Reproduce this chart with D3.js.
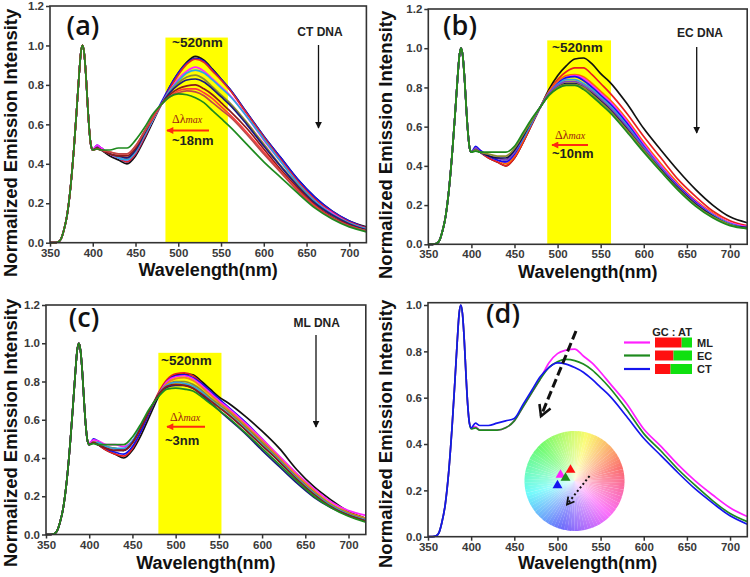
<!DOCTYPE html>
<html><head><meta charset="utf-8">
<script src="https://cdn.jsdelivr.net/npm/d3@7"></script>
<style>body{margin:0;background:#fff}svg{display:block}</style>
</head><body><svg id="chart" width="750" height="577"></svg>
<script>
// ---------- data ----------
const exWavelengths = [350,355,360,363,366,370,374,378,381,384,386,388,390,392,394,396,398];
const exIntensity   = [0,0,0.005,0.02,0.06,0.14,0.28,0.48,0.66,0.85,0.96,1.0,0.96,0.85,0.70,0.57,0.49];
const emWavelengths = [400,405,410,420,430,440,450,460,470,480,490,500,510,520,530,540,550,560,580,600,620,640,660,680,700,720];

// (a) CT DNA titration
const ctColors = ["#111111","#1010ee","#e02828","#ff20ff","#2aa8e0","#8c8c30","#1a1a80","#8b1a1a","#ff3a3a","#c04848","#1e8a1e"];
const ctSpectra = [
 [0.47,0.485,0.47,0.44,0.42,0.40,0.44,0.52,0.61,0.70,0.79,0.86,0.915,0.945,0.925,0.88,0.83,0.78,0.66,0.54,0.43,0.32,0.23,0.16,0.11,0.08],
 [0.47,0.495,0.48,0.45,0.43,0.41,0.45,0.53,0.62,0.71,0.79,0.86,0.91,0.935,0.92,0.875,0.83,0.78,0.66,0.54,0.43,0.32,0.23,0.16,0.11,0.075],
 [0.47,0.48,0.47,0.45,0.43,0.41,0.45,0.53,0.62,0.70,0.78,0.85,0.905,0.93,0.915,0.87,0.825,0.775,0.655,0.535,0.42,0.31,0.22,0.155,0.105,0.075],
 [0.47,0.495,0.48,0.45,0.43,0.42,0.46,0.54,0.62,0.70,0.77,0.83,0.87,0.89,0.87,0.83,0.79,0.75,0.64,0.52,0.41,0.30,0.21,0.15,0.10,0.07],
 [0.47,0.48,0.47,0.45,0.43,0.42,0.46,0.54,0.62,0.70,0.77,0.82,0.86,0.875,0.86,0.825,0.785,0.745,0.64,0.525,0.41,0.30,0.21,0.145,0.10,0.07],
 [0.47,0.48,0.47,0.45,0.44,0.43,0.47,0.55,0.63,0.70,0.76,0.81,0.84,0.85,0.83,0.79,0.75,0.71,0.61,0.50,0.39,0.29,0.20,0.14,0.095,0.065],
 [0.47,0.48,0.47,0.45,0.44,0.43,0.47,0.55,0.63,0.70,0.76,0.80,0.825,0.83,0.815,0.78,0.74,0.70,0.60,0.49,0.385,0.285,0.20,0.14,0.095,0.065],
 [0.47,0.48,0.47,0.45,0.44,0.44,0.48,0.56,0.63,0.70,0.75,0.78,0.795,0.80,0.78,0.75,0.71,0.67,0.58,0.475,0.37,0.275,0.19,0.13,0.09,0.06],
 [0.47,0.475,0.47,0.46,0.45,0.45,0.49,0.56,0.63,0.70,0.74,0.77,0.78,0.78,0.76,0.73,0.69,0.65,0.56,0.46,0.36,0.265,0.185,0.125,0.085,0.06],
 [0.47,0.475,0.47,0.46,0.45,0.45,0.49,0.56,0.64,0.70,0.74,0.76,0.77,0.765,0.745,0.71,0.675,0.64,0.55,0.45,0.355,0.26,0.18,0.125,0.085,0.06],
 [0.47,0.475,0.47,0.47,0.48,0.48,0.52,0.58,0.65,0.70,0.74,0.755,0.75,0.735,0.71,0.67,0.63,0.59,0.50,0.41,0.33,0.25,0.175,0.12,0.08,0.055]
];

// (b) EC DNA titration
const ecColors = ["#111111","#e82020","#ff6a00","#ff20ff","#1010ee","#30a0e0","#8040c0","#101050","#8c8c30","#1e8a1e"];
const ecSpectra = [
 [0.47,0.485,0.47,0.44,0.42,0.40,0.44,0.52,0.61,0.70,0.79,0.86,0.91,0.945,0.95,0.92,0.87,0.83,0.72,0.59,0.48,0.375,0.28,0.20,0.14,0.11],
 [0.47,0.49,0.47,0.44,0.42,0.40,0.44,0.52,0.61,0.70,0.78,0.84,0.88,0.90,0.90,0.865,0.82,0.775,0.67,0.55,0.44,0.33,0.245,0.17,0.12,0.095],
 [0.47,0.48,0.47,0.45,0.43,0.41,0.45,0.53,0.62,0.70,0.78,0.83,0.86,0.865,0.855,0.82,0.78,0.74,0.64,0.52,0.41,0.31,0.225,0.16,0.11,0.09],
 [0.47,0.49,0.48,0.45,0.43,0.42,0.46,0.54,0.62,0.70,0.77,0.82,0.85,0.86,0.845,0.81,0.77,0.73,0.63,0.51,0.40,0.30,0.22,0.155,0.11,0.09],
 [0.47,0.50,0.48,0.45,0.43,0.42,0.46,0.54,0.62,0.70,0.77,0.82,0.85,0.855,0.835,0.80,0.76,0.72,0.62,0.50,0.39,0.295,0.215,0.15,0.105,0.085],
 [0.47,0.48,0.47,0.45,0.44,0.43,0.47,0.54,0.62,0.70,0.77,0.815,0.84,0.84,0.82,0.79,0.75,0.71,0.61,0.495,0.39,0.29,0.21,0.15,0.105,0.085],
 [0.47,0.49,0.47,0.45,0.44,0.43,0.47,0.55,0.63,0.70,0.77,0.81,0.83,0.83,0.81,0.78,0.74,0.70,0.60,0.49,0.385,0.29,0.21,0.145,0.10,0.085],
 [0.47,0.48,0.47,0.45,0.44,0.44,0.48,0.55,0.63,0.70,0.76,0.80,0.82,0.82,0.80,0.77,0.73,0.69,0.59,0.48,0.38,0.285,0.205,0.145,0.10,0.085],
 [0.47,0.48,0.47,0.46,0.45,0.45,0.49,0.56,0.63,0.70,0.76,0.80,0.815,0.815,0.80,0.765,0.725,0.685,0.585,0.48,0.375,0.28,0.20,0.14,0.10,0.08],
 [0.47,0.475,0.47,0.47,0.47,0.47,0.50,0.57,0.64,0.70,0.76,0.795,0.81,0.81,0.79,0.755,0.715,0.675,0.575,0.47,0.37,0.275,0.195,0.135,0.095,0.08]
];

// (c) ML DNA titration
const mlColors = ["#111111","#e82020","#1010ee","#ff20ff","#f08020","#8c8c30","#30a0e0","#1a1a80","#8b1a1a","#1e8a1e"];
const mlSpectra = [
 [0.47,0.485,0.47,0.44,0.42,0.40,0.44,0.52,0.62,0.72,0.80,0.835,0.84,0.835,0.80,0.76,0.72,0.69,0.62,0.54,0.45,0.34,0.25,0.18,0.12,0.085],
 [0.47,0.485,0.47,0.44,0.42,0.41,0.45,0.54,0.64,0.74,0.81,0.84,0.845,0.83,0.79,0.74,0.695,0.655,0.575,0.48,0.39,0.30,0.22,0.15,0.105,0.075],
 [0.47,0.50,0.49,0.45,0.43,0.42,0.46,0.54,0.64,0.73,0.80,0.83,0.835,0.82,0.79,0.75,0.71,0.67,0.59,0.50,0.40,0.30,0.22,0.155,0.11,0.08],
 [0.48,0.495,0.49,0.47,0.47,0.46,0.49,0.56,0.65,0.73,0.80,0.825,0.83,0.815,0.78,0.74,0.70,0.665,0.585,0.50,0.41,0.32,0.24,0.17,0.125,0.10],
 [0.47,0.485,0.48,0.46,0.45,0.44,0.48,0.56,0.65,0.73,0.79,0.815,0.82,0.805,0.77,0.73,0.69,0.655,0.575,0.49,0.40,0.31,0.23,0.16,0.115,0.085],
 [0.47,0.48,0.48,0.46,0.45,0.44,0.48,0.56,0.65,0.73,0.78,0.80,0.80,0.785,0.755,0.715,0.68,0.645,0.565,0.48,0.39,0.30,0.22,0.155,0.11,0.08],
 [0.47,0.48,0.48,0.46,0.45,0.45,0.49,0.57,0.65,0.73,0.78,0.795,0.79,0.775,0.745,0.705,0.67,0.635,0.555,0.47,0.385,0.295,0.215,0.15,0.105,0.075],
 [0.47,0.48,0.47,0.45,0.44,0.44,0.48,0.56,0.65,0.73,0.77,0.78,0.78,0.765,0.73,0.69,0.65,0.61,0.53,0.44,0.355,0.27,0.195,0.14,0.10,0.07],
 [0.47,0.48,0.47,0.45,0.44,0.44,0.48,0.56,0.65,0.73,0.775,0.785,0.78,0.765,0.735,0.70,0.665,0.63,0.55,0.465,0.38,0.29,0.21,0.145,0.10,0.07],
 [0.47,0.475,0.47,0.47,0.47,0.47,0.51,0.58,0.66,0.72,0.76,0.765,0.76,0.75,0.72,0.685,0.65,0.615,0.535,0.45,0.365,0.28,0.20,0.14,0.095,0.065]
];

// (d) saturated spectra
const dNames  = ["ML","EC","CT"];
const dColors = ["#ff20ff","#1e8a1e","#1515ee"];
const dSpectra = [
 [0.47,0.475,0.46,0.46,0.46,0.47,0.50,0.56,0.62,0.68,0.75,0.79,0.805,0.81,0.78,0.75,0.71,0.665,0.575,0.465,0.39,0.31,0.24,0.18,0.125,0.087],
 [0.465,0.47,0.46,0.46,0.46,0.47,0.50,0.56,0.62,0.68,0.73,0.755,0.765,0.76,0.745,0.72,0.685,0.645,0.55,0.445,0.37,0.29,0.22,0.155,0.10,0.065],
 [0.47,0.49,0.48,0.48,0.49,0.50,0.51,0.57,0.63,0.69,0.73,0.75,0.745,0.73,0.71,0.68,0.645,0.61,0.52,0.425,0.35,0.275,0.205,0.145,0.09,0.054]
];
const gcContent = [72, 50, 42];           // % GC of ML, EC, CT DNA
const wheelPoints = [[-0.08,0.22],[-0.28,0.12],[-0.18,0.06],[-0.34,-0.09]];
const wheelColors = ["#ff1010","#ff20ff","#1e8a1e","#1515ee"];

const shiftLabels = ["~18nm","~10nm","~3nm"];
const dnaLabels = ["CT DNA","EC DNA","ML DNA"];
const bands = [[485,558],[488,562],[480,553]];
const bandTops = [1.04,1.04,0.95];
const xTicks = [350,400,450,500,550,600,650,700];

// ---------- drawing ----------
const svg = d3.select("#chart");
const FONT = "'Liberation Sans', Arial, sans-serif";

const layout = [
 {xr:[50,366.4], yr:[242.7,6], ymax:1.2, label:"(a)", lab:[83,35], xt:276, yt:[16.5,277], spectra:ctSpectra, colors:ctColors, ann:0,
  arrow:[318.5,45,128], dnaTxt:[320,36], nmTxt:[172,46.5], dlTxt:[172,123], redArr:[209,167,130.5], shTxt:[172,145]},
 {xr:[428.3,747.2], yr:[244.3,9], ymax:1.2, label:"(b)", lab:[460,35], xt:278, yt:[391.5,279], spectra:ecSpectra, colors:ecColors, ann:1,
  arrow:[696.7,47,133], dnaTxt:[700,36.5], nmTxt:[552,51.5], dlTxt:[555,139], redArr:[588,552,145], shTxt:[552,158]},
 {xr:[46,365.8], yr:[534.5,305], ymax:1.2, label:"(c)", lab:[84,327], xt:568.5, yt:[16.5,567], spectra:mlSpectra, colors:mlColors, ann:2,
  arrow:[316,335,427], dnaTxt:[316.7,326.5], nmTxt:[161,365], dlTxt:[170,421], redArr:[205,167,426.7], shTxt:[165,445]},
 {xr:[428,747.3], yr:[536.7,302.7], ymax:1.01, label:"(d)", lab:[503,323], xt:569, yt:[391.5,568], spectra:dSpectra, colors:dColors, ann:-1}
];

const defs = svg.append("defs");
defs.append("marker").attr("id","blackHead").attr("viewBox","0 0 10 10").attr("refX",9).attr("refY",5)
  .attr("markerWidth",7).attr("markerHeight",7).attr("orient","auto").attr("markerUnits","userSpaceOnUse")
  .append("path").attr("d","M0,0L10,5L0,10Z").attr("fill","#111");
defs.append("marker").attr("id","redHead").attr("viewBox","0 0 10 10").attr("refX",9).attr("refY",5)
  .attr("markerWidth",8).attr("markerHeight",7).attr("orient","auto").attr("markerUnits","userSpaceOnUse")
  .append("path").attr("d","M0,0L10,5L0,10Z").attr("fill","#ff2a10");
defs.append("marker").attr("id","openHead").attr("viewBox","0 0 10 10").attr("refX",8).attr("refY",5)
  .attr("markerWidth",15).attr("markerHeight",15).attr("orient","auto").attr("markerUnits","userSpaceOnUse")
  .append("path").attr("d","M1,1L8,5L1,9").attr("fill","none").attr("stroke","#111").attr("stroke-width",1.7);
defs.append("marker").attr("id","openHeadSmall").attr("viewBox","0 0 10 10").attr("refX",8).attr("refY",5)
  .attr("markerWidth",10).attr("markerHeight",10).attr("orient","auto").attr("markerUnits","userSpaceOnUse")
  .append("path").attr("d","M1,1L8,5L1,9").attr("fill","none").attr("stroke","#111").attr("stroke-width",1.8);
const rg = defs.append("radialGradient").attr("id","wheelFade");
rg.append("stop").attr("offset","0%").attr("stop-color","#fff").attr("stop-opacity",0.75);
rg.append("stop").attr("offset","55%").attr("stop-color","#fff").attr("stop-opacity",0.3);
rg.append("stop").attr("offset","100%").attr("stop-color","#fff").attr("stop-opacity",0);

const allX = exWavelengths.concat(emWavelengths);

layout.forEach((L, pi) => {
  const g = svg.append("g");
  const x = d3.scaleLinear().domain([350,720]).range(L.xr);
  const y = d3.scaleLinear().domain([0,L.ymax]).range(L.yr);

  // yellow band
  if (L.ann >= 0) {
    const b = bands[L.ann];
    g.append("rect").attr("x",x(b[0])).attr("width",x(b[1])-x(b[0]))
      .attr("y",y(bandTops[L.ann])).attr("height",y(0)-y(bandTops[L.ann])).attr("fill","#ffff00");
  }

  // colour wheel in (d)
  if (pi === 3) {
    const cx = 574.5, cy = 481, r = 50;
    const wg = g.append("g").attr("transform",`translate(${cx},${cy})`);
    const arc = d3.arc().innerRadius(0).outerRadius(r);
    const n = 90;
    for (let i = 0; i < n; i++) {
      const a0 = i/n*2*Math.PI, a1 = (i+1.05)/n*2*Math.PI;
      const theta = (i+0.5)/n*360;
      const hue = ((75 - theta) % 360 + 360) % 360;
      wg.append("path").attr("d",arc({startAngle:a0,endAngle:a1})).attr("fill",d3.hsl(hue,0.95,0.7));
    }
    wg.append("circle").attr("r",r).attr("fill","url(#wheelFade)");
    const wx = d3.scaleLinear().domain([-1,1]).range([-r,r]);
    const wy = d3.scaleLinear().domain([-1,1]).range([r,-r]);
    wg.append("line").attr("x1",wx(0.3)).attr("y1",wy(0.1)).attr("x2",wx(-0.15)).attr("y2",wy(-0.47))
      .attr("stroke","#111").attr("stroke-width",2).attr("stroke-dasharray","2,2.5").attr("marker-end","url(#openHeadSmall)");
    wheelPoints.forEach((p,i) => {
      wg.append("path").attr("d",d3.symbol(d3.symbolTriangle).size(42)())
        .attr("transform",`translate(${wx(p[0])},${wy(p[1])})`).attr("fill",wheelColors[i]);
    });
  }

  // spectra
  const line = d3.line().x(d=>x(d[0])).y(d=>y(d[1])).curve(d3.curveMonotoneX);
  L.spectra.forEach((s,i) => {
    const pts = allX.map((w,k) => [w, k < exIntensity.length ? exIntensity[k] : s[k-exIntensity.length]]);
    g.append("path").attr("d",line(pts)).attr("fill","none").attr("stroke",L.colors[i])
      .attr("stroke-width",1.7).attr("stroke-linejoin","round");
  });

  // frame
  g.append("rect").attr("x",L.xr[0]).attr("y",L.yr[1]).attr("width",L.xr[1]-L.xr[0]).attr("height",L.yr[0]-L.yr[1])
    .attr("fill","none").attr("stroke","#333").attr("stroke-width",1.6);

  // axes
  const xa = g.append("g").attr("transform",`translate(0,${L.yr[0]})`)
    .call(d3.axisBottom(x).tickValues(xTicks).tickSize(4).tickPadding(2).tickFormat(d3.format("d")));
  const yTicks = d3.range(0, Math.floor(L.ymax*5+1e-6)+1).map(i=>i*0.2);
  const ya = g.append("g").attr("transform",`translate(${L.xr[0]},0)`)
    .call(d3.axisLeft(y).tickValues(yTicks).tickSize(4).tickPadding(2).tickFormat(d3.format(".1f")));
  [xa,ya].forEach(a => {
    a.select(".domain").remove();
    a.selectAll(".tick line").attr("stroke","#333").attr("stroke-width",1.5);
    a.selectAll(".tick text").attr("fill","#3a3a3a").style("font-family",FONT).style("font-weight","bold").style("font-size","11.5px");
  });

  // titles
  g.append("text").attr("x",(L.xr[0]+L.xr[1])/2).attr("y",L.xt).attr("text-anchor","middle")
    .style("font-family",FONT).style("font-weight","bold").style("font-size","18px").attr("fill","#111").text("Wavelength(nm)");
  g.append("text").attr("transform",`translate(${L.yt[0]},${L.yt[1]}) rotate(-90)`).attr("text-anchor","start")
    .style("font-family",FONT).style("font-weight","bold").style("font-size","18.5px").attr("fill","#111").text("Normalized Emission Intensity");

  // panel label
  g.append("text").attr("x",L.lab[0]).attr("y",L.lab[1]).attr("text-anchor","middle")
    .style("font-family","'Open Sans','Noto Sans',sans-serif").style("font-weight","600").style("font-size","27px").attr("fill","#111").text(L.label);

  if (L.ann >= 0) {
    const k = L.ann;
    g.append("text").attr("x",L.dnaTxt[0]).attr("y",L.dnaTxt[1]).attr("text-anchor","middle")
      .style("font-family",FONT).style("font-weight","bold").style("font-size","12px").attr("fill","#222").text(dnaLabels[k]);
    g.append("line").attr("x1",L.arrow[0]).attr("x2",L.arrow[0]).attr("y1",L.arrow[1]).attr("y2",L.arrow[2])
      .attr("stroke","#111").attr("stroke-width",1.3).attr("marker-end","url(#blackHead)");
    g.append("text").attr("x",L.nmTxt[0]).attr("y",L.nmTxt[1])
      .style("font-family",FONT).style("font-weight","bold").style("font-size","13.5px").attr("fill","#222").text("~520nm");
    const dl = g.append("text").attr("x",L.dlTxt[0]).attr("y",L.dlTxt[1])
      .style("font-family","'Liberation Serif','Times New Roman',serif").style("font-size","12px").attr("fill","#9a1a10");
    dl.append("tspan").text("Δλ");
    dl.append("tspan").style("font-size","10px").style("font-style","italic").text("max");
    g.append("line").attr("x1",L.redArr[0]).attr("x2",L.redArr[1]).attr("y1",L.redArr[2]).attr("y2",L.redArr[2])
      .attr("stroke","#ff2a10").attr("stroke-width",2).attr("marker-end","url(#redHead)");
    g.append("text").attr("x",L.shTxt[0]).attr("y",L.shTxt[1])
      .style("font-family",FONT).style("font-weight","bold").style("font-size","13px").attr("fill","#222").text(shiftLabels[k]);
  } else {
    // dashed arrow
    g.append("line").attr("x1",576).attr("y1",331).attr("x2",541).attr("y2",416)
      .attr("stroke","#111").attr("stroke-width",3).attr("stroke-dasharray","9,4").attr("marker-end","url(#openHead)");
    // legend
    g.append("text").attr("x",672).attr("y",336).attr("text-anchor","middle")
      .style("font-family",FONT).style("font-weight","bold").style("font-size","11px").attr("fill","#222").text("GC : AT");
    const bx = d3.scaleLinear().domain([0,100]).range([655,692]);
    const rows = [342.5,355.5,369];
    dNames.forEach((nm,i) => {
      const yy = rows[i];
      g.append("line").attr("x1",624).attr("x2",650).attr("y1",yy).attr("y2",yy).attr("stroke",dColors[i]).attr("stroke-width",2.2);
      g.append("rect").attr("x",bx(0)).attr("y",yy-5).attr("width",bx(gcContent[i])-bx(0)).attr("height",10).attr("fill","#ff1010");
      g.append("rect").attr("x",bx(gcContent[i])).attr("y",yy-5).attr("width",bx(100)-bx(gcContent[i])).attr("height",10).attr("fill","#10e010");
      g.append("text").attr("x",697).attr("y",yy+4).style("font-family",FONT).style("font-weight","bold").style("font-size","11px")
        .attr("fill","#222").text(nm);
    });
  }
});
</script></body></html>
